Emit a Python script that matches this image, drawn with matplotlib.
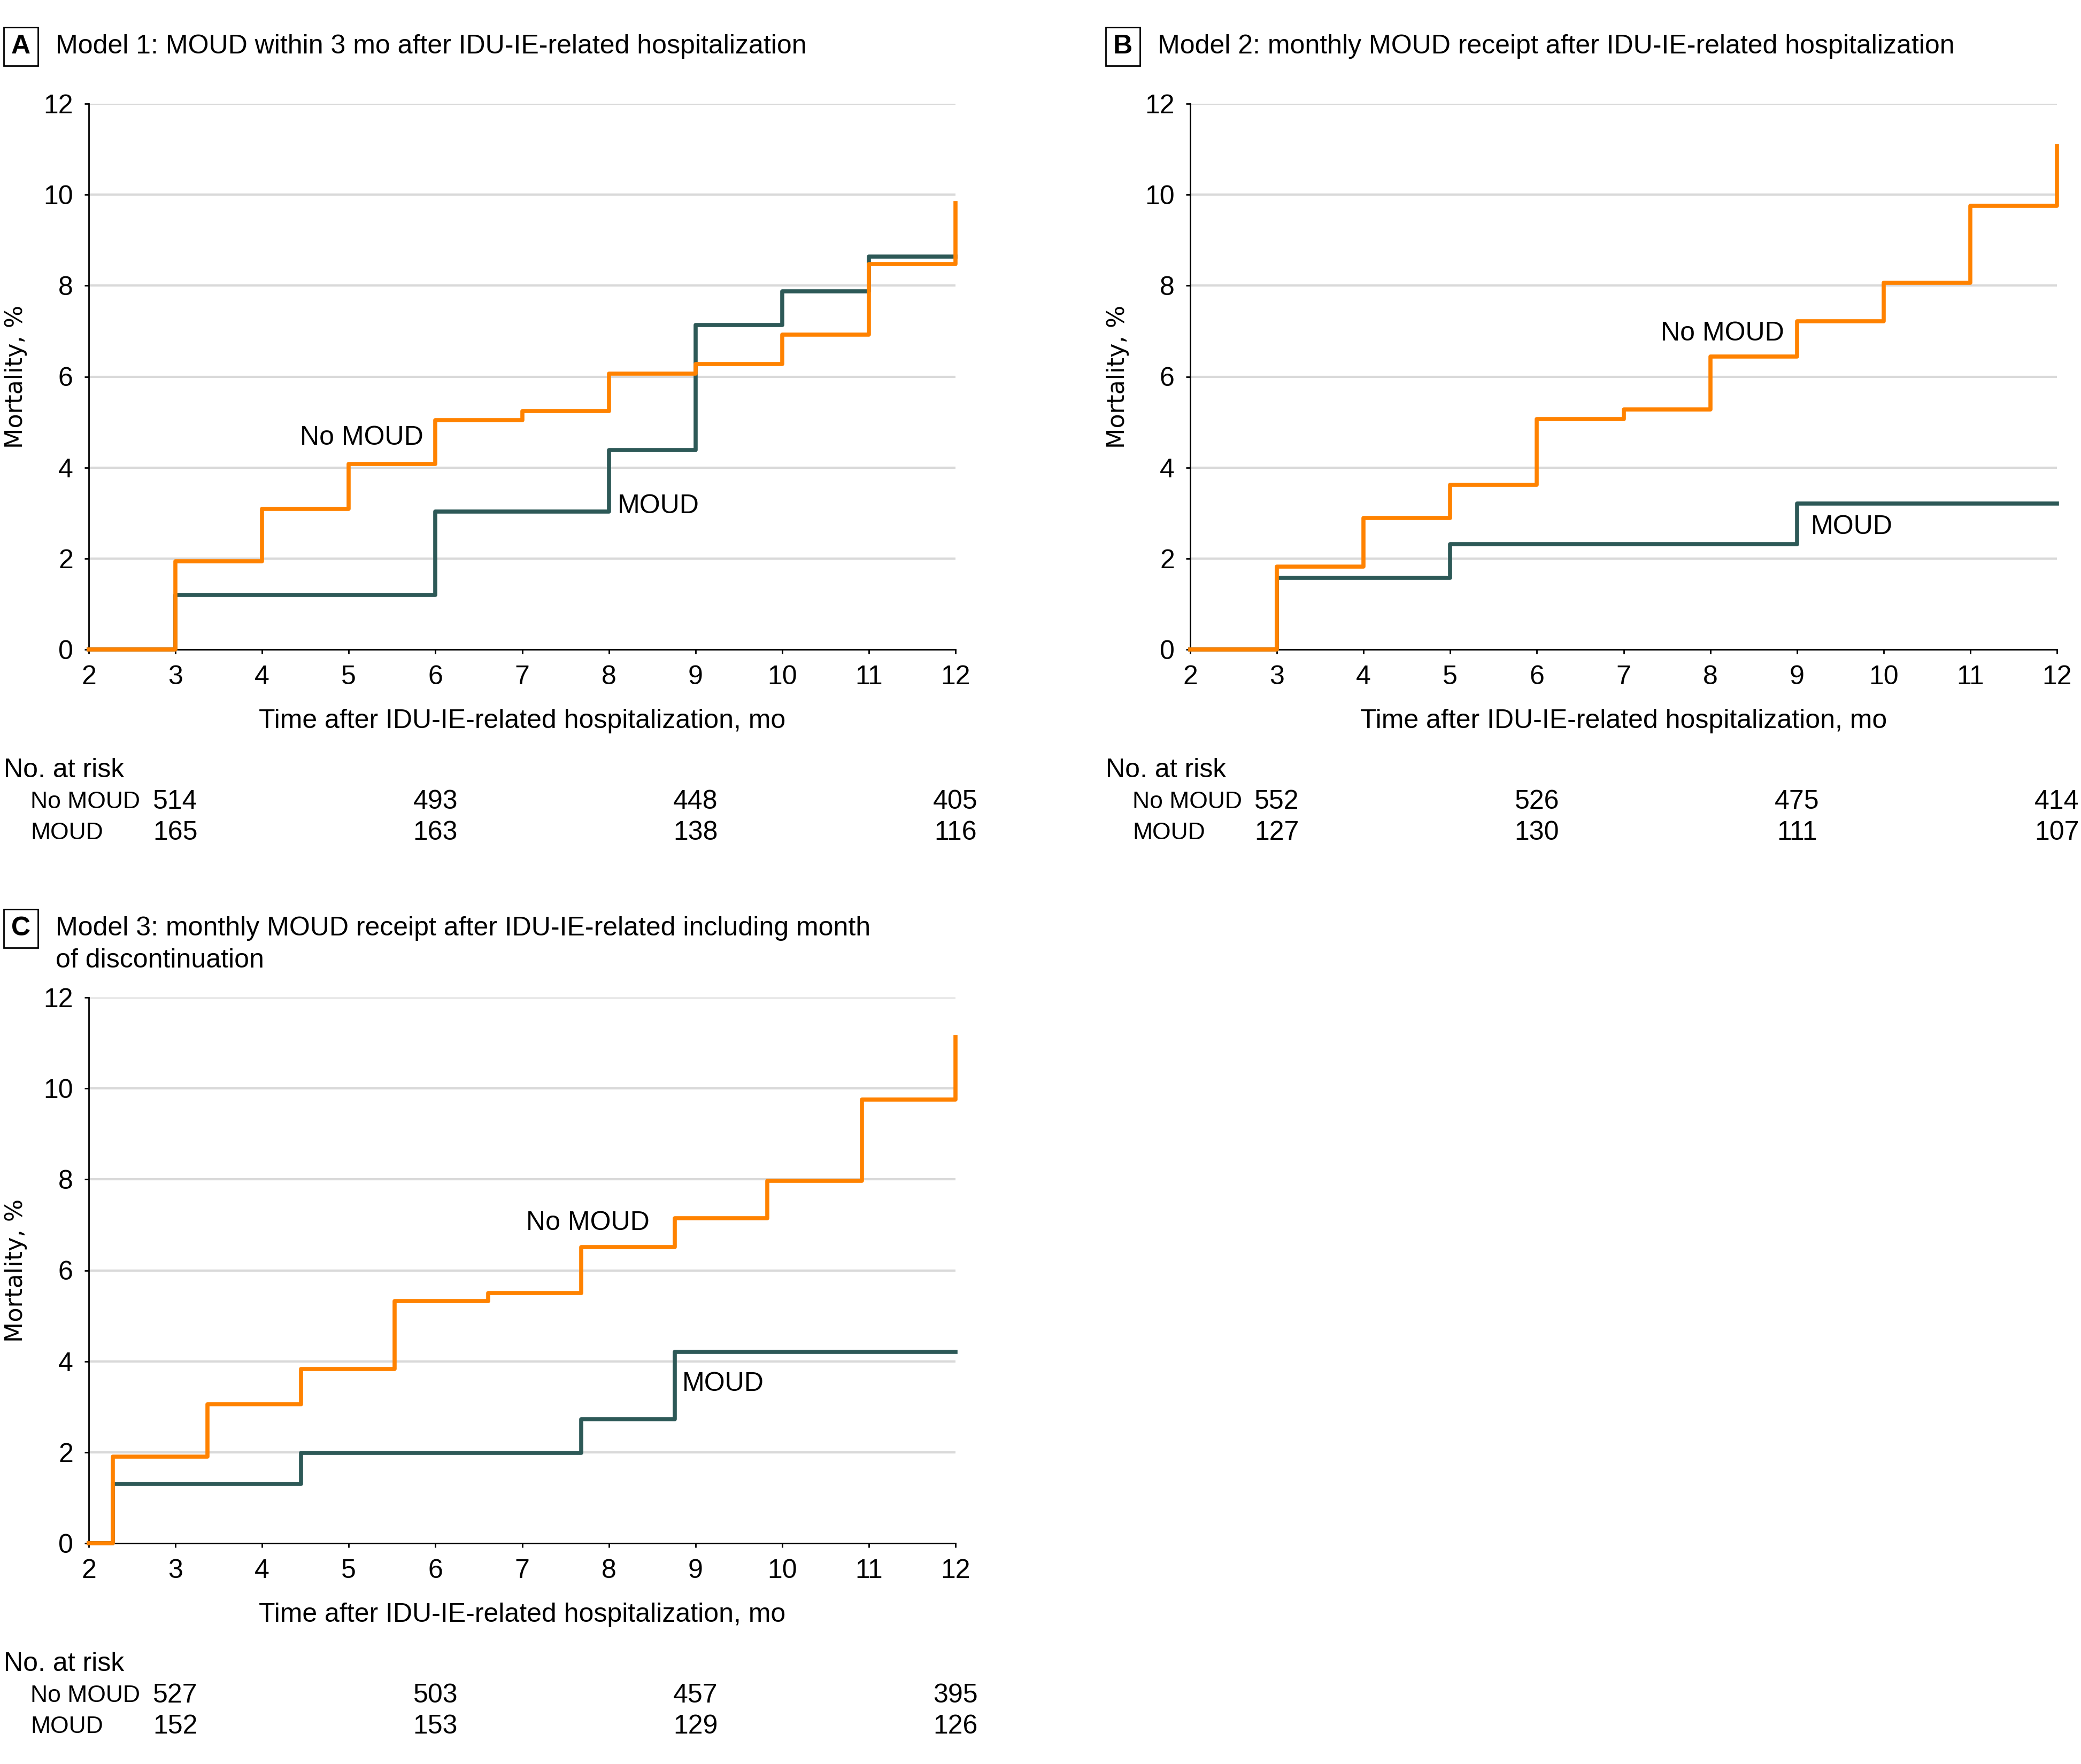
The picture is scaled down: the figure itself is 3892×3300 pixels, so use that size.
"""Cumulative mortality after IDU-IE-related hospitalization, three MOUD models."""

import matplotlib

matplotlib.use("Agg")
import matplotlib.pyplot as plt
import matplotlib.transforms as mtransforms
from matplotlib.patches import Rectangle

W, H = 3892, 3300
ORANGE = "#FF8200"
TEAL = "#2D5957"
GRID = "#D9D9D9"
FONT = ["Liberation Sans", "DejaVu Sans"]
FS = 36

plt.rcParams["font.family"] = FONT

# ---- data ----
months = [2, 3, 4, 5, 6, 7, 8, 9, 10, 11, 12]
risk_months = [3, 6, 9, 12]

a_no_t = [2, 3, 4, 5, 6, 7, 8, 9, 10, 11, 12]
a_no_y = [0, 1.94, 3.09, 4.08, 5.04, 5.24, 6.07, 6.28, 6.92, 8.47, 9.81]
a_moud_t = [2, 3, 6, 8, 9, 10, 11, 12]
a_moud_y = [0, 1.20, 3.03, 4.38, 7.13, 7.88, 8.64, 8.64]
a_risk_no = [514, 493, 448, 405]
a_risk_moud = [165, 163, 138, 116]

b_no_t = [2, 3, 4, 5, 6, 7, 8, 9, 10, 11, 12]
b_no_y = [0, 1.82, 2.89, 3.62, 5.07, 5.28, 6.44, 7.22, 8.06, 9.75, 11.07]
b_moud_t = [2, 3, 5, 9, 12]
b_moud_y = [0, 1.58, 2.31, 3.21, 3.21]
b_risk_no = [552, 526, 475, 414]
b_risk_moud = [127, 130, 111, 107]

c_no_t = [2, 2.28, 3.37, 4.45, 5.53, 6.61, 7.68, 8.76, 9.83, 10.92, 12]
c_no_y = [0, 1.90, 3.05, 3.83, 5.33, 5.50, 6.51, 7.15, 7.97, 9.75, 11.13]
c_moud_t = [2, 2.28, 4.45, 7.68, 8.76, 12]
c_moud_y = [0, 1.31, 1.99, 2.73, 4.21, 4.21]
c_risk_no = [527, 503, 457, 395]
c_risk_moud = [152, 153, 129, 126]

PANELS = [
    dict(letter="A", title=["Model 1: MOUD within 3 mo after IDU-IE-related hospitalization"],
         no=(a_no_t, a_no_y), moud=(a_moud_t, a_moud_y), risk=(a_risk_no, a_risk_moud),
         lab_no=(5.15, 4.65), lab_moud=(8.57, 3.15),
         left=166, top=194, x0=7, ty=87),
    dict(letter="B", title=["Model 2: monthly MOUD receipt after IDU-IE-related hospitalization"],
         no=(b_no_t, b_no_y), moud=(b_moud_t, b_moud_y), risk=(b_risk_no, b_risk_moud),
         lab_no=(8.14, 6.95), lab_moud=(9.63, 2.69),
         left=2226, top=194, x0=2068, ty=87),
    dict(letter="C", title=["Model 3: monthly MOUD receipt after IDU-IE-related including month",
                            "of discontinuation"],
         no=(c_no_t, c_no_y), moud=(c_moud_t, c_moud_y), risk=(c_risk_no, c_risk_moud),
         lab_no=(7.76, 7.04), lab_moud=(9.32, 3.50),
         left=166, top=1866, x0=7, ty=1737),
]
AX_W, AX_H = 1621, 1021


def fx(x):
    return x / W


def fy(y):
    return 1 - y / H


fig = plt.figure(figsize=(W / 100, H / 100), dpi=100)

for p in PANELS:
    ax = fig.add_axes([fx(p["left"]), fy(p["top"] + AX_H), AX_W / W, AX_H / H])
    ax.set_xlim(2, 12)
    ax.set_ylim(0, 12)
    ax.set_xticks(months)
    ax.set_yticks(range(0, 13, 2))
    for y in range(2, 13, 2):
        ax.axhline(y, color=GRID, lw=3, zorder=0)
    for side in ("top", "right"):
        ax.spines[side].set_visible(False)
    for side in ("left", "bottom"):
        ax.spines[side].set_linewidth(2)
    ax.tick_params(length=6, width=2, labelsize=FS, pad=15)

    ax.step(*p["moud"], where="post", color=TEAL, lw=5.5, clip_on=False, zorder=3)
    ax.step(*p["no"], where="post", color=ORANGE, lw=5.5, clip_on=False, zorder=4)
    ax.text(*p["lab_no"], "No MOUD", fontsize=FS, ha="center", va="center")
    ax.text(*p["lab_moud"], "MOUD", fontsize=FS, ha="center", va="center")

    # panel letter box + title
    x0, ty = p["x0"], p["ty"]
    fig.patches.append(Rectangle((fx(x0), fy(ty + 36)), 64 / W, 72 / H, transform=fig.transFigure,
                                 fill=False, lw=2, edgecolor="black"))
    fig.text(fx(x0 + 32), fy(ty), p["letter"], fontsize=FS, fontweight="bold",
             ha="center", va="center")
    for i, line in enumerate(p["title"]):
        fig.text(fx(x0 + 97), fy(ty + 60 * i), line, fontsize=FS, ha="left", va="center")

    # axis labels
    bottom = p["top"] + AX_H
    fig.text(fx(p["left"] + AX_W / 2), fy(bottom + 134), "Time after IDU-IE-related hospitalization, mo",
             fontsize=FS, ha="center", va="center")
    fig.text(fx(p["left"] - 136), fy(p["top"] + AX_H / 2), "Mortality, %", fontsize=32,
             rotation=90, ha="center", va="center", family=["DejaVu Sans"])

    # number at risk table
    trans = mtransforms.blended_transform_factory(ax.transData, fig.transFigure)
    fig.text(fx(x0), fy(bottom + 226), "No. at risk", fontsize=FS, ha="left", va="center")
    for row, (name, vals) in enumerate(zip(["No MOUD", "MOUD"], p["risk"])):
        yrow = fy(bottom + 285 + 58 * row)
        fig.text(fx(x0 + 50), yrow, name, fontsize=32, ha="left", va="center")
        for m, v in zip(risk_months, vals):
            ax.text(m, yrow, str(v), fontsize=FS, ha="center", va="center", transform=trans)

fig.savefig("out.png", dpi=100)
